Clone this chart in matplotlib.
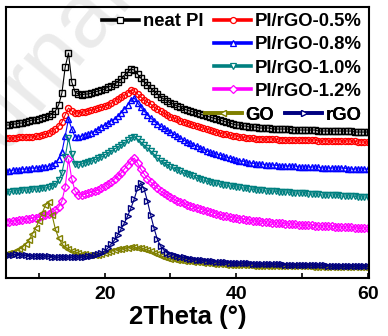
import numpy as np
import matplotlib
matplotlib.use('Agg')
from matplotlib import pyplot as plt
from matplotlib.lines import Line2D
from matplotlib.ticker import MultipleLocator

plt.rcParams['font.family'] = ['Liberation Sans', 'DejaVu Sans']

# 2theta sampling grid (deg), 0.5 step
X = np.arange(5, 60.01, 0.5)

neat_pi = [154, 154, 155, 155, 156, 156, 157, 158, 159, 159,
           160, 161, 162, 163, 165, 168, 174, 186, 212, 226,
           197, 187, 185, 184, 185, 185, 186, 187, 188, 189,
           190, 192, 193, 195, 197, 200, 204, 207, 210, 209,
           205, 201, 197, 194, 191, 188, 185, 182, 180, 178,
           176, 175, 173, 172, 170, 169, 168, 167, 166, 165,
           164, 163, 162, 161, 160, 159, 158, 157, 156, 155,
           154, 154, 153, 153, 152, 152, 152, 151, 151, 151,
           151, 150, 150, 150, 150, 150, 150, 149, 149, 149,
           149, 149, 149, 149, 149, 148, 148, 148, 148, 148,
           148, 148, 148, 148, 148, 148, 147, 147, 147, 147,
           147]
rgo_05 = [141, 141, 141, 141, 142, 142, 142, 142, 142, 143,
          143, 144, 145, 146, 148, 150, 153, 157, 164, 171,
          168, 166, 166, 167, 167, 168, 169, 170, 171, 172,
          173, 174, 176, 178, 180, 182, 184, 186, 189, 188,
          185, 182, 179, 177, 175, 172, 170, 168, 166, 164,
          162, 161, 160, 158, 157, 156, 155, 154, 153, 152,
          151, 150, 149, 148, 147, 146, 145, 145, 144, 143,
          143, 142, 142, 141, 141, 141, 140, 140, 140, 140,
          140, 140, 140, 139, 139, 139, 139, 139, 139, 139,
          139, 139, 139, 139, 139, 138, 138, 138, 138, 138,
          138, 138, 138, 138, 138, 138, 138, 137, 137, 137,
          137]
rgo_08 = [108, 108, 109, 109, 109, 110, 110, 110, 111, 111,
          111, 112, 112, 113, 114, 116, 120, 127, 143, 160,
          150, 142, 142, 143, 144, 145, 146, 148, 150, 152,
          154, 156, 158, 160, 163, 166, 170, 174, 179, 181,
          176, 172, 168, 164, 161, 158, 155, 153, 151, 149,
          147, 145, 143, 141, 139, 137, 136, 134, 133, 131,
          130, 128, 127, 126, 125, 124, 123, 122, 121, 120,
          119, 118, 118, 117, 116, 116, 115, 115, 115, 114,
          114, 114, 114, 113, 113, 113, 113, 113, 113, 112,
          112, 112, 112, 112, 112, 112, 111, 111, 111, 111,
          111, 111, 111, 111, 110, 110, 110, 110, 110, 110,
          110]
rgo_10 = [87, 87, 88, 88, 88, 89, 89, 89, 90, 90,
          90, 91, 91, 92, 93, 95, 99, 106, 122, 141,
          125, 115, 114, 115, 116, 117, 118, 119, 121, 122,
          124, 126, 128, 130, 132, 134, 136, 139, 141, 142,
          140, 137, 134, 131, 128, 125, 121, 118, 116, 114,
          112, 111, 109, 108, 106, 105, 104, 103, 101, 100,
          99, 98, 97, 96, 96, 95, 94, 94, 93, 93,
          92, 92, 91, 91, 90, 90, 89, 89, 89, 88,
          88, 88, 88, 87, 87, 87, 87, 86, 86, 86,
          86, 86, 85, 85, 85, 85, 84, 84, 84, 84,
          84, 84, 83, 83, 83, 83, 83, 82, 82, 82,
          82]
rgo_12 = [57, 57, 58, 58, 59, 59, 60, 60, 61, 61,
          62, 63, 64, 65, 67, 69, 72, 78, 92, 120,
          100, 88, 84, 84, 85, 86, 87, 88, 89, 91,
          93, 95, 97, 100, 103, 106, 110, 114, 118, 121,
          116, 110, 105, 100, 97, 94, 91, 88, 86, 84,
          82, 80, 78, 77, 76, 74, 73, 72, 71, 70,
          69, 68, 67, 66, 65, 64, 63, 63, 62, 61,
          61, 60, 60, 59, 59, 58, 58, 58, 57, 57,
          57, 56, 56, 56, 56, 55, 55, 55, 55, 54,
          54, 54, 54, 54, 53, 53, 53, 53, 53, 53,
          52, 52, 52, 52, 52, 52, 51, 51, 51, 51,
          51]
go = [25, 26, 27, 28, 30, 32, 35, 39, 45, 51,
      58, 66, 74, 77, 64, 50, 41, 35, 32, 30,
      28, 27, 26, 25, 25, 24, 24, 24, 24, 25,
      26, 27, 28, 29, 30, 30, 31, 31, 32, 32,
      31, 31, 30, 29, 28, 26, 25, 23, 22, 21,
      20, 20, 19, 19, 18, 18, 18, 17, 17, 17,
      16, 16, 16, 15, 15, 15, 15, 14, 14, 14,
      14, 14, 14, 14, 14, 13, 13, 13, 13, 13,
      13, 13, 13, 13, 13, 13, 13, 13, 13, 13,
      13, 13, 13, 12, 12, 12, 12, 12, 12, 12,
      12, 12, 12, 12, 12, 12, 12, 12, 12, 12,
      12]
rgo = [24, 24, 24, 25, 24, 24, 24, 23, 23, 23,
       23, 23, 23, 23, 22, 22, 22, 22, 22, 22,
       22, 22, 22, 22, 22, 23, 23, 24, 25, 26,
       28, 31, 35, 39, 44, 50, 56, 63, 71, 80,
       91, 96, 90, 78, 64, 51, 40, 33, 29, 26,
       25, 24, 23, 22, 22, 21, 20, 20, 19, 19,
       19, 18, 18, 18, 17, 17, 17, 17, 16, 16,
       16, 16, 16, 16, 16, 15, 15, 15, 15, 15,
       15, 15, 15, 15, 15, 14, 14, 14, 14, 14,
       14, 14, 14, 14, 14, 14, 14, 14, 13, 13,
       13, 13, 13, 13, 13, 13, 13, 13, 13, 13,
       13]

labels = ['neat PI', 'PI/rGO-0.5%', 'PI/rGO-0.8%', 'PI/rGO-1.0%',
          'PI/rGO-1.2%', 'GO', 'rGO']
series = [neat_pi, rgo_05, rgo_08, rgo_10, rgo_12, go, rgo]
colors = ['black', '#ff0000', '#0000ff', '#008080', '#ff00ff', '#808000', '#000080']
markers = ['s', 'o', '^', 'v', 'D', '<', '>']
msizes = [4.3, 4.3, 4.8, 4.8, 3.8, 4.8, 4.8]

fig = plt.figure(figsize=(3.88, 3.36), dpi=100)
ax = fig.add_axes([0.0155, 0.1726, 0.9355, 0.8064])
ax.set_facecolor('none')

# faint watermark behind the plot
fig.text(-0.143, 0.323, 'Journal Pre-proof', rotation=50, fontsize=65,
         color='#ebebeb', rotation_mode='anchor', ha='left', va='baseline',
         zorder=-5)

for y, c, m, ms in zip(series, colors, markers, msizes):
    ax.plot(X, y, color=c, lw=0.8, marker=m, ms=ms, mfc='none', mec=c, mew=1.0)

ax.set_xlim(5, 60.2)
ax.set_ylim(1, 272)
ax.xaxis.set_major_locator(MultipleLocator(20))
ax.xaxis.set_minor_locator(MultipleLocator(10))
ax.tick_params(axis='x', which='both', direction='in', length=3.5, width=1.2,
               labelsize=14, pad=6)
ax.set_yticks([])
for lab in ax.get_xticklabels():
    lab.set_fontweight('bold')
for s in ax.spines.values():
    s.set_linewidth(1.5)
ax.set_xlabel('2Theta (°)', fontsize=18.5, fontweight='bold', labelpad=1)

handles = [Line2D([], [], color=c, lw=2.6, marker=m, ms=ms, mfc='white', mec=c, mew=0.9)
           for c, m, ms in zip(colors, markers, msizes)]

rows = [([0, 1], 0.945), ([2], 0.860), ([3], 0.775), ([4], 0.690), ([5, 6], 0.601)]
for idx, ypos in rows:
    leg = ax.legend([handles[i] for i in idx], [labels[i] for i in idx],
                    loc='center right', bbox_to_anchor=(0.98, ypos), ncol=len(idx),
                    frameon=False, borderpad=0, borderaxespad=0, handlelength=2.0,
                    handletextpad=0.2, columnspacing=0.6,
                    prop={'weight': 'bold', 'size': 13.3})
    ax.add_artist(leg)

fig.savefig('out.png', dpi=100)
